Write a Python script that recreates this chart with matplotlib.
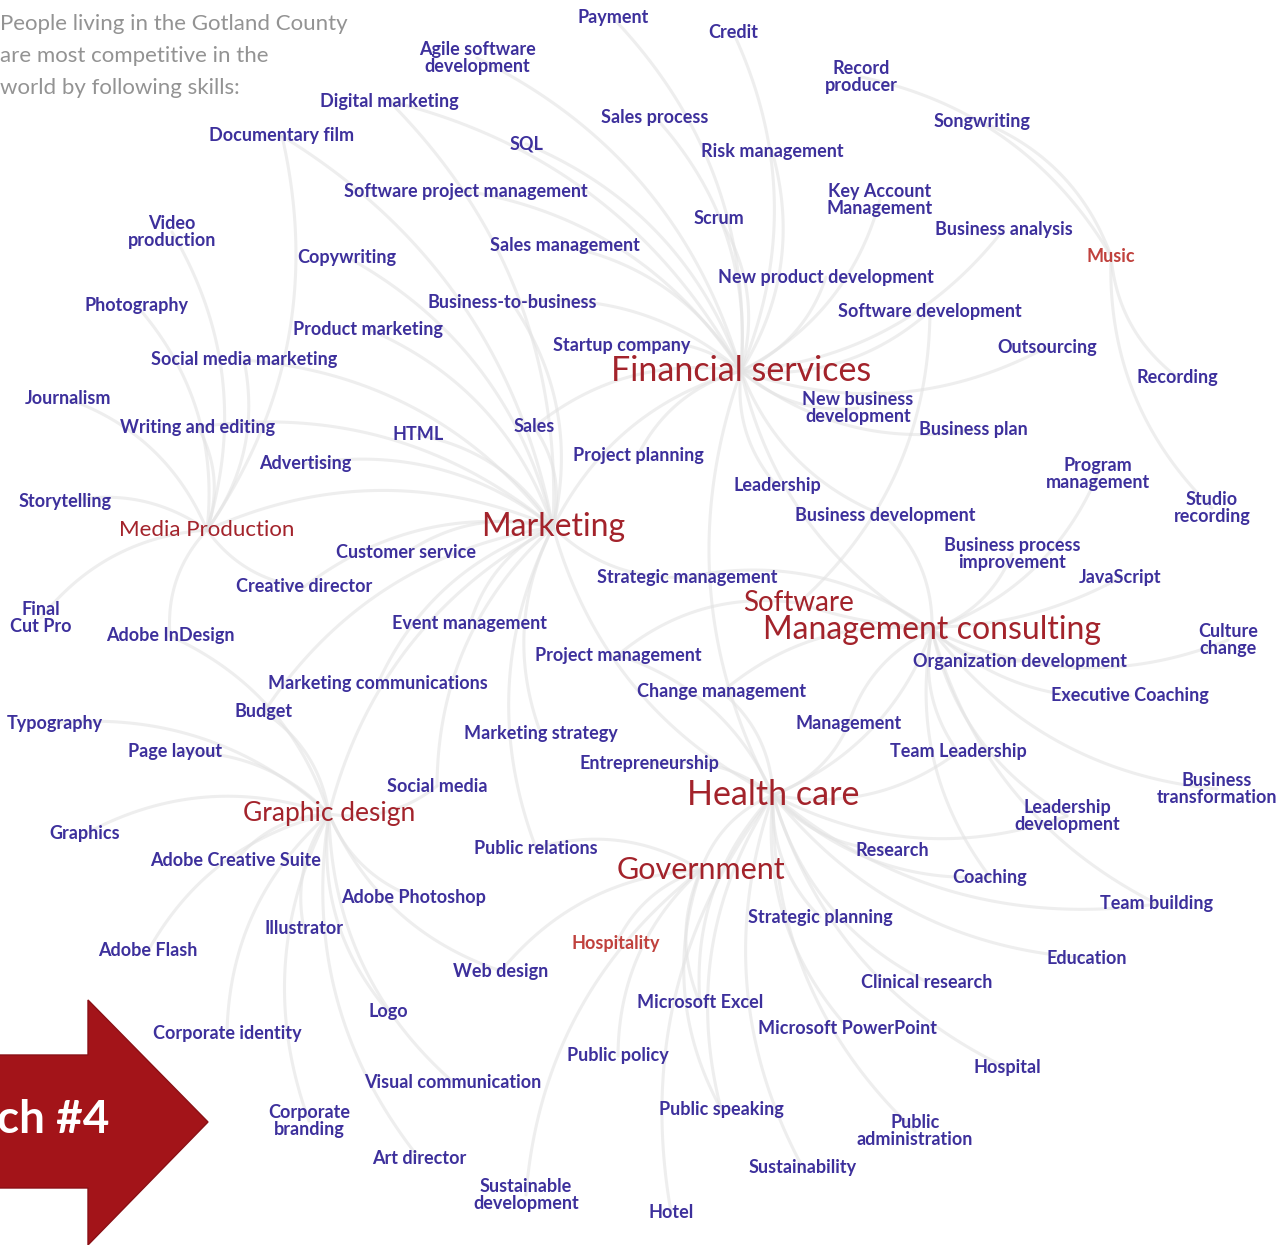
import matplotlib.pyplot as plt
import numpy as np
from matplotlib.patches import Polygon

# hubs: label, x, y, font size
hub_names = ["Financial services", "Marketing", "Health care", "Management consulting",
             "Government", "Graphic design", "Media Production", "Software"]
hub_x = [741, 553, 773, 932, 701, 329, 207, 799]
hub_y = [371, 527, 795, 630, 870, 814, 530, 603]
hub_size = [24.5, 23, 24.5, 23, 22, 19, 16, 20]

minor_names = ["Music", "Hospitality"]
minor_x = [1111, 616]
minor_y = [256, 944]

skill_names = [
    "Payment", "Credit", "Agile software\ndevelopment", "Record\nproducer", "Digital marketing",
    "Sales process", "Songwriting", "Documentary film", "SQL", "Risk management",
    "Software project management", "Key Account\nManagement", "Scrum", "Video\nproduction",
    "Business analysis", "Sales management", "Copywriting", "New product development",
    "Photography", "Business-to-business", "Software development", "Product marketing",
    "Startup company", "Outsourcing", "Social media marketing", "Recording", "Journalism",
    "New business\ndevelopment", "Writing and editing", "Business plan", "HTML", "Sales",
    "Project planning", "Advertising", "Program\nmanagement", "Leadership", "Storytelling",
    "Studio\nrecording", "Business development", "Customer service",
    "Business process\nimprovement", "JavaScript", "Strategic management", "Creative director",
    "Final\nCut Pro", "Adobe InDesign", "Event management", "Culture\nchange",
    "Project management", "Organization development", "Marketing communications",
    "Change management", "Executive Coaching", "Budget", "Typography", "Management",
    "Marketing strategy", "Page layout", "Team Leadership", "Entrepreneurship", "Social media",
    "Business\ntransformation", "Leadership\ndevelopment", "Graphics", "Public relations",
    "Research", "Adobe Creative Suite", "Coaching", "Adobe Photoshop", "Team building",
    "Strategic planning", "Illustrator", "Adobe Flash", "Education", "Web design",
    "Clinical research", "Microsoft Excel", "Logo", "Corporate identity",
    "Microsoft PowerPoint", "Public policy", "Hospital", "Visual communication",
    "Public speaking", "Corporate\nbranding", "Public\nadministration", "Art director",
    "Sustainability", "Sustainable\ndevelopment", "Hotel",
]
skill_x = [
    613, 733, 477, 861, 389, 655, 982, 282, 526, 772,
    466, 880, 719, 172, 1004, 565, 347, 826, 137, 512,
    930, 368, 622, 1047, 244, 1177, 68, 858, 198, 973,
    418, 534, 638, 305, 1098, 777, 65, 1212, 885, 406,
    1012, 1120, 687, 304, 41, 170, 470, 1228, 618, 1020,
    378, 722, 1130, 264, 55, 849, 541, 175, 958, 649,
    437, 1217, 1067, 85, 536, 892, 236, 990, 414, 1157,
    820, 304, 148, 1087, 501, 927, 700, 388, 227, 848,
    618, 1007, 453, 721, 309, 915, 419, 803, 526, 671,
]
skill_y = [
    18, 32, 58, 77, 101, 117, 122, 136, 144, 151,
    191, 200, 218, 232, 229, 246, 257, 277, 306, 303,
    311, 329, 345, 347, 360, 377, 399, 408, 427, 430,
    435, 427, 455, 464, 474, 486, 502, 508, 516, 553,
    554, 578, 577, 587, 618, 636, 624, 640, 655, 661,
    683, 692, 696, 712, 723, 723, 734, 752, 752, 764,
    786, 789, 816, 834, 848, 850, 860, 877, 897, 904,
    917, 929, 951, 958, 971, 982, 1003, 1011, 1033, 1028,
    1056, 1068, 1082, 1109, 1121, 1131, 1158, 1168, 1195, 1212,
]

# links from each hub to the skills around it
links = {
    "Financial services": ["Payment", "Credit", "Agile software\ndevelopment", "Sales process", "SQL",
                           "Risk management", "Software project management", "Key Account\nManagement",
                           "Scrum", "Business analysis", "Sales management", "New product development",
                           "Business-to-business", "Software development", "Startup company", "Outsourcing",
                           "New business\ndevelopment", "Business plan", "Sales", "Project planning",
                           "Leadership", "Business development", "Marketing", "Health care",
                           "Management consulting", "Digital marketing"],
    "Marketing": ["Digital marketing", "Copywriting", "Product marketing", "Social media marketing",
                  "Writing and editing", "HTML", "Advertising", "Customer service", "Event management",
                  "Marketing communications", "Marketing strategy", "Social media", "Public relations",
                  "Sales", "Business-to-business", "Strategic management", "Creative director",
                  "Documentary film", "Graphic design", "Health care", "Media Production", "Budget"],
    "Media Production": ["Video\nproduction", "Photography", "Journalism", "Storytelling", "Final\nCut Pro",
                         "Adobe InDesign", "Documentary film", "Writing and editing", "Creative director",
                         "Social media marketing"],
    "Graphic design": ["Typography", "Page layout", "Graphics", "Adobe Creative Suite", "Adobe Photoshop",
                       "Illustrator", "Adobe Flash", "Web design", "Logo", "Corporate identity",
                       "Visual communication", "Corporate\nbranding", "Art director", "Budget",
                       "Adobe InDesign", "Social media"],
    "Health care": ["Management", "Team Leadership", "Research", "Coaching", "Strategic planning",
                    "Clinical research", "Microsoft Excel", "Microsoft PowerPoint", "Hospital",
                    "Public speaking", "Public\nadministration", "Sustainability", "Entrepreneurship",
                    "Change management", "Education", "Team building", "Leadership\ndevelopment",
                    "Project management", "Hotel", "Government", "Management consulting"],
    "Management consulting": ["Business process\nimprovement", "Organization development",
                              "Executive Coaching", "Culture\nchange", "Change management",
                              "Business\ntransformation", "Leadership\ndevelopment", "Team Leadership",
                              "Program\nmanagement", "Business development", "Strategic management",
                              "Coaching", "Management", "Team building"],
    "Government": ["Public policy", "Public relations", "Sustainable\ndevelopment", "Hospitality",
                   "Public speaking", "Microsoft Excel", "Web design"],
    "Software": ["JavaScript", "Software development", "Project management"],
    "Music": ["Songwriting", "Record\nproducer", "Recording", "Studio\nrecording"],
}

pos = {}
for n, x, y in zip(hub_names, hub_x, hub_y):
    pos[n] = (x, y)
for n, x, y in zip(minor_names, minor_x, minor_y):
    pos[n] = (x, y)
for n, x, y in zip(skill_names, skill_x, skill_y):
    pos[n] = (x, y)

fig = plt.figure(figsize=(12.88, 12.45), dpi=100)
ax = fig.add_axes([0, 0, 1, 1])
ax.set_xlim(0, 1288)
ax.set_ylim(1245, 0)
ax.axis("off")

# curved edges
t = np.linspace(0, 1, 60)
for hub, targets in links.items():
    x0, y0 = pos[hub]
    for tg in targets:
        x1, y1 = pos[tg]
        dx, dy = x1 - x0, y1 - y0
        cx = (x0 + x1) / 2 - dy * 0.22
        cy = (y0 + y1) / 2 + dx * 0.22
        bx = (1 - t) ** 2 * x0 + 2 * (1 - t) * t * cx + t ** 2 * x1
        by = (1 - t) ** 2 * y0 + 2 * (1 - t) * t * cy + t ** 2 * y1
        ax.plot(bx, by, color="#e3e3e3", lw=2.2, alpha=0.6, solid_capstyle="round", zorder=1)

fonts = ["Lato", "DejaVu Sans"]
for n, x, y in zip(skill_names, skill_x, skill_y):
    ax.text(x, y, n, ha="center", va="center", fontsize=13, family=fonts, weight="bold",
            color="#3d309c", linespacing=1.05, zorder=3)
for n, x, y, s in zip(hub_names, hub_x, hub_y, hub_size):
    ax.text(x, y, n, ha="center", va="center", fontsize=s, family=fonts,
            color="#a3232b", zorder=3)
for n, x, y in zip(minor_names, minor_x, minor_y):
    ax.text(x, y, n, ha="center", va="center", fontsize=13, family=fonts, weight="bold",
            color="#c0413d", zorder=3)

ax.text(0, 14, "People living in the Gotland County\nare most competitive in the\nworld by following skills:",
        ha="left", va="top", fontsize=16, family=fonts, color="#939393", linespacing=1.75, zorder=3)

# red arrow
arrow = Polygon([(-5, 1055), (88, 1055), (88, 1000), (208, 1122), (88, 1245), (88, 1188), (-5, 1188)],
                closed=True, facecolor="#a31419", edgecolor="#8a1015", lw=1, zorder=4)
ax.add_patch(arrow)
ax.text(-3, 1120, "ch #4", ha="left", va="center", fontsize=33, family=fonts, weight="bold",
        color="white", zorder=5)

fig.savefig("out.png", dpi=100)
